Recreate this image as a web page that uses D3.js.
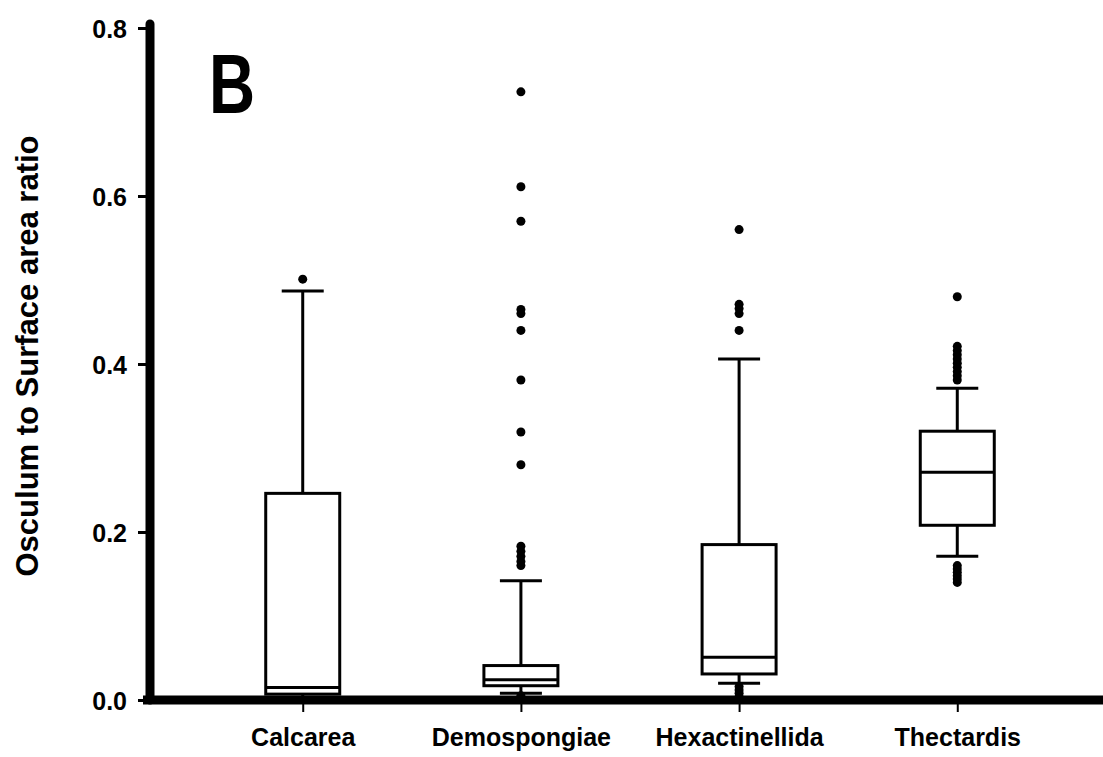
<!DOCTYPE html>
<html>
<head>
<meta charset="utf-8">
<script src="https://cdn.jsdelivr.net/npm/d3@7/dist/d3.min.js"></script>
<style>
  html, body { margin: 0; padding: 0; background: #fff; }
  svg { display: block; }
  text { font-family: "Liberation Sans", Arial, sans-serif; font-weight: bold; fill: #000; }
</style>
</head>
<body>
<svg id="chart" width="1103" height="757"></svg>
<script>
// Sponge classes on the x axis
const categories = ["Calcarea", "Demospongiae", "Hexactinellida", "Thectardis"];

// Box summaries (osculum : surface area ratio)
const whiskerLow  = [0.002, 0.008, 0.020, 0.171];
const q1          = [0.007, 0.017, 0.031, 0.208];
const median      = [0.015, 0.024, 0.051, 0.271];
const q3          = [0.246, 0.041, 0.185, 0.320];
const whiskerHigh = [0.487, 0.142, 0.406, 0.371];

// Points beyond the whiskers, one list per class
const outliers = [
  [0.501],
  [0.724, 0.611, 0.570, 0.465, 0.460, 0.440, 0.381, 0.319, 0.280,
   0.183, 0.177, 0.171, 0.165, 0.160, 0.005, 0.003],
  [0.560, 0.471, 0.466, 0.460, 0.440, 0.016, 0.012, 0.008, 0.004],
  [0.480, 0.421, 0.416, 0.411, 0.406, 0.401, 0.396, 0.391, 0.386, 0.381,
   0.160, 0.156, 0.152, 0.148, 0.144, 0.140]
];

const yTicks = [0.0, 0.2, 0.4, 0.6, 0.8];

const W = 1103, H = 757;
const svg = d3.select("#chart");

const x = d3.scalePoint().domain(categories).range([150, 1110]).padding(0.7);
const y = d3.scaleLinear().domain([0, 0.8]).range([700, 28]);

const boxW = 74, capW = 42, lw = 3;

// Y axis ticks and labels
const yAxis = d3.axisLeft(y).tickValues(yTicks).tickFormat(d3.format(".1f"))
  .tickSize(12).tickSizeOuter(0).tickPadding(11);
const gy = svg.append("g").attr("transform", "translate(150,0)").call(yAxis);
gy.select(".domain").remove();
gy.selectAll(".tick line").attr("stroke", "#000").attr("stroke-width", 3);
gy.selectAll(".tick text").style("font-size", "25px").attr("dy", "0.36em");

// X axis ticks and labels
const xAxis = d3.axisBottom(x).tickSize(9).tickSizeOuter(0).tickPadding(16);
const gx = svg.append("g").attr("transform", "translate(0,703)").call(xAxis);
gx.select(".domain").remove();
gx.selectAll(".tick line").attr("stroke", "#000").attr("stroke-width", 2);
gx.selectAll(".tick text").style("font-size", "25px").attr("dy", "0.71em");

// Boxes
const data = categories.map((c, i) => ({
  c, lo: whiskerLow[i], q1: q1[i], med: median[i], q3: q3[i], hi: whiskerHigh[i], out: outliers[i]
}));

const g = svg.append("g");
const box = g.selectAll("g.box").data(data).join("g").attr("class", "box")
  .attr("transform", d => `translate(${x(d.c)},0)`);

// whiskers
box.append("line").attr("x1", 0).attr("x2", 0)
  .attr("y1", d => y(d.q3)).attr("y2", d => y(d.hi))
  .attr("stroke", "#000").attr("stroke-width", lw);
box.append("line").attr("x1", 0).attr("x2", 0)
  .attr("y1", d => y(d.q1)).attr("y2", d => y(d.lo))
  .attr("stroke", "#000").attr("stroke-width", lw);
// caps
box.append("line").attr("x1", -capW / 2).attr("x2", capW / 2)
  .attr("y1", d => y(d.hi)).attr("y2", d => y(d.hi))
  .attr("stroke", "#000").attr("stroke-width", lw);
box.append("line").attr("x1", -capW / 2).attr("x2", capW / 2)
  .attr("y1", d => y(d.lo)).attr("y2", d => y(d.lo))
  .attr("stroke", "#000").attr("stroke-width", lw);
// box body
box.append("rect").attr("x", -boxW / 2).attr("width", boxW)
  .attr("y", d => y(d.q3)).attr("height", d => y(d.q1) - y(d.q3))
  .attr("fill", "#fff").attr("stroke", "#000").attr("stroke-width", lw);
// median
box.append("line").attr("x1", -boxW / 2).attr("x2", boxW / 2)
  .attr("y1", d => y(d.med)).attr("y2", d => y(d.med))
  .attr("stroke", "#000").attr("stroke-width", lw);
// outliers
box.selectAll("circle").data(d => d.out).join("circle")
  .attr("cx", 0).attr("cy", v => y(v)).attr("r", 4.5).attr("fill", "#000");

// Heavy axis lines
svg.append("line").attr("x1", 150).attr("x2", 150)
  .attr("y1", y(0.8) - 4).attr("y2", y(0))
  .attr("stroke", "#000").attr("stroke-width", 9).attr("stroke-linecap", "round");
svg.append("line").attr("x1", 143).attr("x2", W)
  .attr("y1", y(0)).attr("y2", y(0))
  .attr("stroke", "#000").attr("stroke-width", 9);

// Y axis title
svg.append("text")
  .attr("transform", "translate(38,356) rotate(-90)")
  .attr("text-anchor", "middle")
  .style("font-size", "31px")
  .text("Osculum to Surface area ratio");

// Panel letter
svg.append("text")
  .attr("transform", "translate(209,113) scale(0.76,1)")
  .style("font-size", "84px")
  .text("B");
</script>
</body>
</html>
